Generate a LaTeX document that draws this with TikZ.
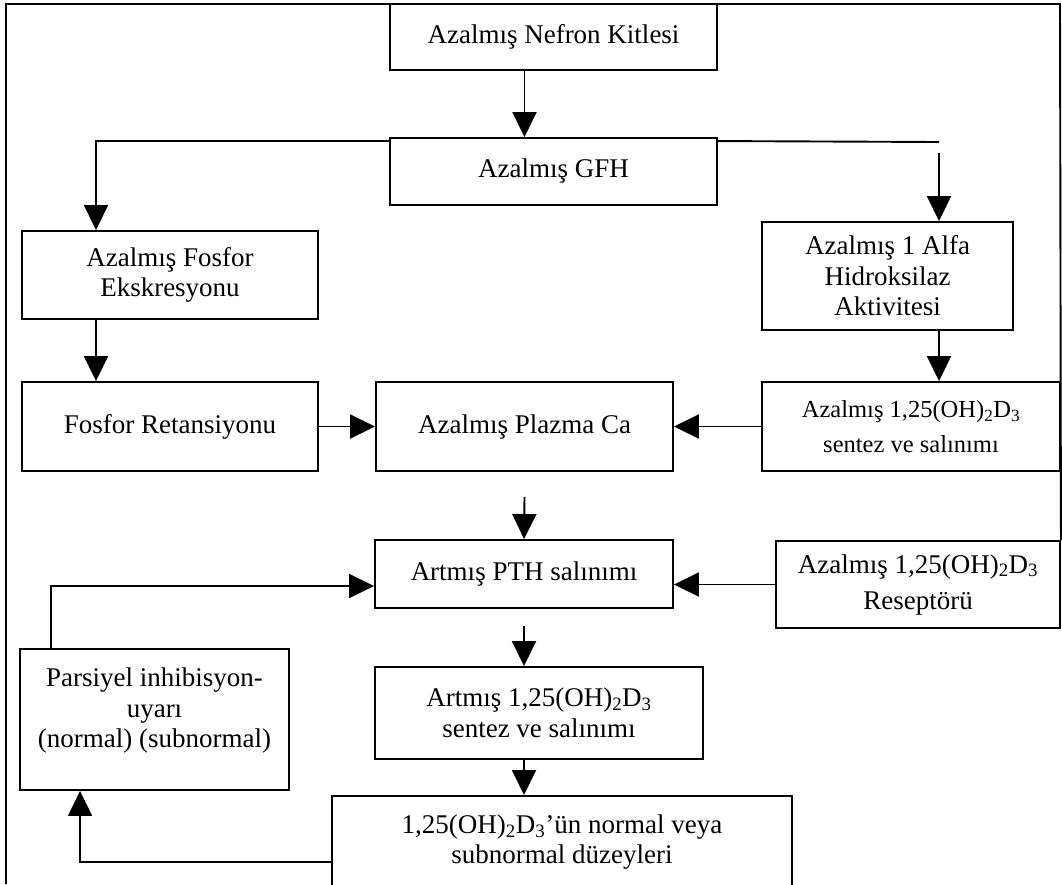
\documentclass[tikz,border=0pt]{standalone}
\usepackage{fontspec}
\setmainfont{Liberation Serif}
\usetikzlibrary{arrows.meta}
\begin{document}
\begin{tikzpicture}[x=1pt,y=-1pt,line width=1.9pt,
  box/.style={draw,align=center,inner sep=2pt,font=\fontsize{27}{30.5}\selectfont},
  arr/.style={-{Triangle[length=25pt,width=24pt]}}]
\useasboundingbox (0,0) rectangle (1062,884);
% boxes
\node[box,minimum width=327pt,minimum height=66pt] (nk) at (553.5,37) {Azalmış Nefron Kitlesi};
\node[box,minimum width=327pt,minimum height=67pt] (gfh) at (553.5,171.5) {Azalmış GFH};
\node[box,minimum width=296pt,minimum height=88pt] (fe) at (170,275) {Azalmış Fosfor\\Ekskresyonu};
\node[box,minimum width=296pt,minimum height=89pt] (fr) at (170,426.5) {Fosfor Retansiyonu};
\node[box,minimum width=297pt,minimum height=89pt] (pc) at (524.5,426.5) {Azalmış Plazma Ca};
\node[box,minimum width=251pt,minimum height=108pt] (alfa) at (887.5,276) {Azalmış 1 Alfa\\Hidroksilaz\\Aktivitesi};
\node[box,minimum width=298pt,minimum height=89pt,font=\fontsize{24.5}{35}\selectfont] (sent) at (911,426.5) {Azalmış 1,25(OH)\textsubscript{2}D\textsubscript{3}\\sentez ve salınımı};
\node[box,minimum width=298pt,minimum height=68pt] (pth) at (524,574) {Artmış PTH salınımı};
\node[box,minimum width=284pt,minimum height=87pt,font=\fontsize{27}{36}\selectfont] (res) at (918,584.5) {Azalmış 1,25(OH)\textsubscript{2}D\textsubscript{3}\\Reseptörü};
\node[box,minimum width=328pt,minimum height=92pt] (art) at (539,713) {Artmış 1,25(OH)\textsubscript{2}D\textsubscript{3}\\sentez ve salınımı};
\node[box,minimum width=269pt,minimum height=141pt] (par) at (154.5,719.5) {Parsiyel inhibisyon-\\uyarı\\(normal) (subnormal)\\[-16pt]\strut};
\node[box,minimum width=460pt,minimum height=92pt,anchor=north] (dz) at (562,795) {1,25(OH)\textsubscript{2}D\textsubscript{3}’ün normal veya\\subnormal düzeyleri};
% helper coordinates
\coordinate (lc) at (96,0);
\coordinate (rc) at (939,0);
\coordinate (rg) at (939,142);
\coordinate (rs) at (939,153);
% outer frame
\draw (6,884) -- (6,4) -- (1060,4) -- (res.north east);
% connectors
\draw[arr] (nk.south -| pc) -- (gfh.north -| pc);
\draw[arr] ([yshift=-4pt]gfh.north west) -| (fe.north -| lc);
\draw ([yshift=-4pt]gfh.north east) -- (rg);
\draw[arr] (rs) -- (alfa.north -| rc);
\draw[arr] (fe.south -| lc) -- (fr.north -| lc);
\draw[arr] (fr) -- (pc);
\draw[arr] (sent.west) -- (pc.east);
\draw[arr] (alfa.south -| rc) -- (sent.north -| rc);
\draw[arr] ([yshift=-25pt]pc.south) -- (pth.north);
\draw[arr] (res.west) -- (res.west -| pth.east);
\draw[arr] ([xshift=32pt]par.north west) |- ([yshift=-12pt]pth.west);
\draw[arr] ([yshift=-17pt]pth.south) -- (art.north -| pth);
\draw[arr] (art.south -| pth) -- (dz.north -| pth);
\draw[arr] ([yshift=-67pt]dz.north west) -| ([xshift=61pt]par.south west);
\end{tikzpicture}
\end{document}
